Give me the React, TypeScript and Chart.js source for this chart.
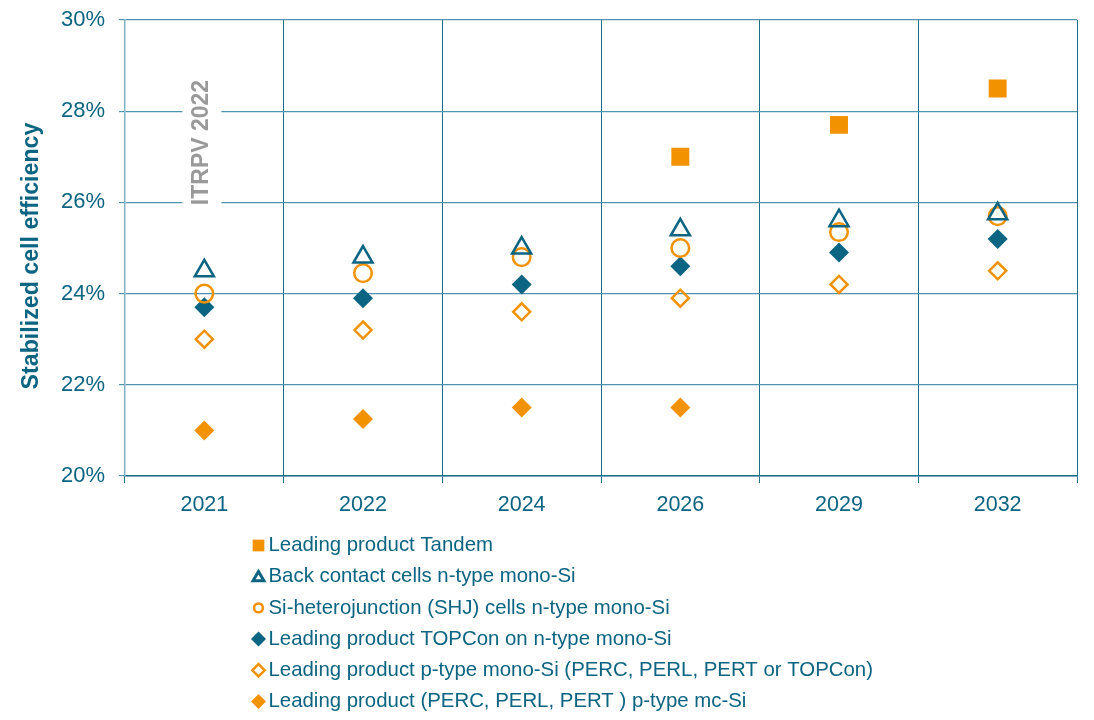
import React, { useEffect, useRef } from 'react';
import { Chart, registerables } from 'chart.js';
import { drawPoint } from 'chart.js/helpers';

Chart.register(...registerables);

const years = ['2021', '2022', '2024', '2026', '2029', '2032'];
const tandem = [null, null, null, 27.0, 27.7, 28.5];
const backContact = [24.5, 24.8, 25.0, 25.4, 25.6, 25.75];
const shj = [24.0, 24.45, 24.8, 25.0, 25.35, 25.7];
const topcon = [23.7, 23.9, 24.2, 24.6, 24.9, 25.2];
const pMono = [23.0, 23.2, 23.6, 23.9, 24.2, 24.5];
const mcSi = [21.0, 21.25, 21.5, 21.5, null, null];
const seriesNames = [
  'Leading product Tandem',
  'Back contact cells n-type mono-Si',
  'Si-heterojunction (SHJ) cells n-type mono-Si',
  'Leading product TOPCon on n-type mono-Si',
  'Leading product p-type mono-Si (PERC, PERL, PERT or TOPCon)',
  'Leading product (PERC, PERL, PERT ) p-type mc-Si',
];
const yMin = 20;
const yMax = 30;
const yStep = 2;
const yTitle = 'Stabilized cell efficiency';
const watermark = 'ITRPV 2022';

const TEAL = '#0b6482';
const ORANGE = '#f39200';
const FONT = '"Liberation Sans", Arial, sans-serif';

export default function App() {
  const ref = useRef<HTMLCanvasElement>(null);

  useEffect(() => {
    const canvas = ref.current;
    if (!canvas) return;

    const legendMarkers = [
      { style: 'rect', radius: 8.3, fill: ORANGE, stroke: ORANGE, bw: 0, dy: 0 },
      { style: 'triangle', radius: 6.3, fill: 'rgba(0,0,0,0)', stroke: TEAL, bw: 3, dy: 1 },
      { style: 'circle', radius: 4.4, fill: 'rgba(0,0,0,0)', stroke: ORANGE, bw: 2.6, dy: 0 },
      { style: 'rectRot', radius: 7.5, fill: TEAL, stroke: TEAL, bw: 0, dy: 0 },
      { style: 'rectRot', radius: 6.2, fill: 'rgba(0,0,0,0)', stroke: ORANGE, bw: 2.5, dy: 0 },
      { style: 'rectRot', radius: 7.5, fill: ORANGE, stroke: ORANGE, bw: 0, dy: 0 },
    ];

    const decor = {
      id: 'decor',
      beforeDatasetsDraw(chart: any) {
        const ctx = chart.ctx;
        const x = chart.scales.x.getPixelForValue(0);
        ctx.save();
        ctx.fillStyle = '#ffffff';
        ctx.fillRect(x - 22, 70, 39, 146);
        ctx.translate(x - 3, 142.5);
        ctx.rotate(-Math.PI / 2);
        ctx.font = `bold 23px ${FONT}`;
        ctx.fillStyle = '#999999';
        ctx.textAlign = 'center';
        ctx.textBaseline = 'middle';
        ctx.fillText(watermark, 0, 0);
        ctx.restore();
      },
      afterDraw(chart: any) {
        const ctx = chart.ctx;
        ctx.save();
        // y axis title
        ctx.save();
        ctx.translate(32, 256);
        ctx.rotate(-Math.PI / 2);
        ctx.font = `bold 23.2px ${FONT}`;
        ctx.fillStyle = TEAL;
        ctx.textAlign = 'center';
        ctx.textBaseline = 'middle';
        ctx.fillText(yTitle, 0, 0);
        ctx.restore();
        // legend
        ctx.font = `20.4px ${FONT}`;
        ctx.textAlign = 'left';
        ctx.textBaseline = 'middle';
        seriesNames.forEach((name, i) => {
          const y = 545.5 + i * 31.2;
          const m = legendMarkers[i];
          ctx.fillStyle = m.fill;
          ctx.strokeStyle = m.stroke;
          ctx.lineWidth = m.bw;
          drawPoint(ctx, { pointStyle: m.style, radius: m.radius, rotation: 0, borderWidth: m.bw }, 258.5, y + m.dy);
          ctx.fillStyle = TEAL;
          ctx.fillText(name, 268.5, y);
        });
        ctx.restore();
      },
    };

    const chart = new Chart(canvas, {
      type: 'line',
      data: {
        labels: years,
        datasets: [
          { label: seriesNames[0], data: tandem, pointStyle: 'rect', pointRadius: 12.7, backgroundColor: ORANGE, borderColor: ORANGE, pointBorderWidth: 0 },
          { label: seriesNames[1], data: backContact, pointStyle: 'triangle', pointRadius: 11, backgroundColor: 'rgba(0,0,0,0)', borderColor: TEAL, pointBorderWidth: 2.5 },
          { label: seriesNames[2], data: shj, pointStyle: 'circle', pointRadius: 8.8, backgroundColor: 'rgba(0,0,0,0)', borderColor: ORANGE, pointBorderWidth: 2.5 },
          { label: seriesNames[3], data: topcon, pointStyle: 'rectRot', pointRadius: 10, backgroundColor: TEAL, borderColor: TEAL, pointBorderWidth: 0 },
          { label: seriesNames[4], data: pMono, pointStyle: 'rectRot', pointRadius: 8.5, backgroundColor: 'rgba(0,0,0,0)', borderColor: ORANGE, pointBorderWidth: 2.5 },
          { label: seriesNames[5], data: mcSi, pointStyle: 'rectRot', pointRadius: 10, backgroundColor: ORANGE, borderColor: ORANGE, pointBorderWidth: 0 },
        ].map((d: any) => ({ ...d, showLine: false, pointBackgroundColor: d.backgroundColor, pointBorderColor: d.borderColor, pointHoverRadius: d.pointRadius })),
      },
      options: {
        responsive: false,
        animation: false,
        events: [],
        layout: { padding: { left: 0, right: 17, top: 20, bottom: 200 } },
        plugins: { legend: { display: false }, tooltip: { enabled: false } },
        scales: {
          x: {
            type: 'category',
            offset: true,
            grid: { offset: true, color: '#1d6f89', lineWidth: 1, tickLength: 7, drawTicks: true },
            border: { color: '#1d6f89', width: 1.5 },
            ticks: { color: TEAL, font: { size: 21.5, family: FONT }, padding: 9, maxRotation: 0 },
            afterFit: (s: any) => { s.height = 44; s.paddingLeft = 0; s.paddingRight = 0; },
          },
          y: {
            min: yMin,
            max: yMax,
            grid: { color: '#4f93ad', lineWidth: 1.2, tickLength: 6 },
            border: { color: '#7fb3c6', width: 1.5 },
            ticks: {
              stepSize: yStep,
              color: TEAL,
              font: { size: 22, family: FONT },
              padding: 14,
              callback: (v: any) => `${v}%`,
            },
            afterFit: (s: any) => { s.width = 125; s.paddingTop = 0; s.paddingBottom = 0; },
          },
        },
      },
      plugins: [decor],
    } as any);

    return () => chart.destroy();
  }, []);

  return (
    <canvas
      ref={ref}
      width={1094}
      height={720}
      style={{ position: 'absolute', left: 0, top: 0, display: 'block', background: '#fff' }}
    />
  );
}
